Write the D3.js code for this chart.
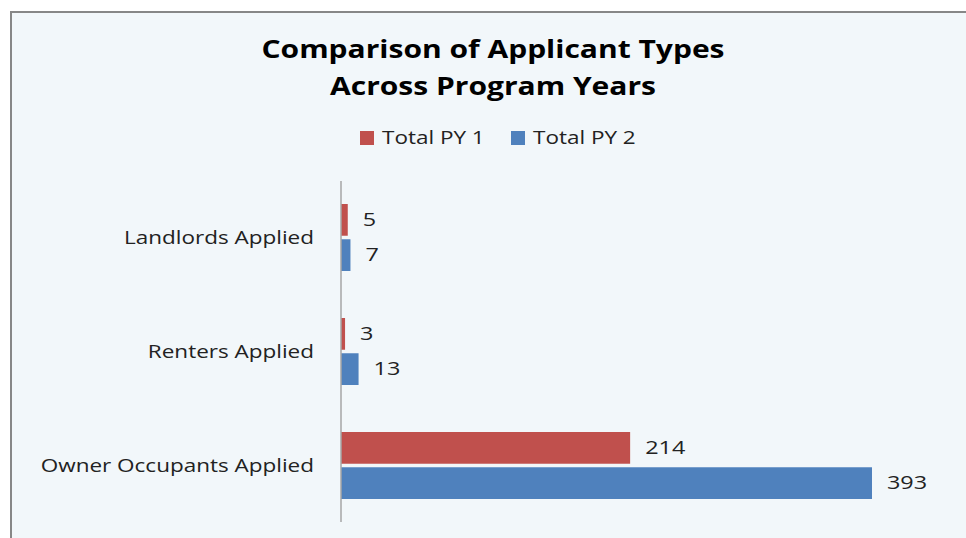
<!DOCTYPE html>
<html>
<head>
<meta charset="utf-8">
<script src="https://cdn.jsdelivr.net/npm/d3@7"></script>
<style>
  html, body { margin: 0; padding: 0; background: #fff; }
  svg { display: block; font-family: "Open Sans", "DejaVu Sans", sans-serif; }
</style>
</head>
<body>
<div id="chart"></div>
<script>
const categories = ["Landlords Applied", "Renters Applied", "Owner Occupants Applied"];
const seriesNames = ["Total PY 1", "Total PY 2"];
const py1Values = [5, 3, 214];
const py2Values = [7, 13, 393];
const colors = ["#c0504d", "#4f81bd"];
const titleLines = ["Comparison of Applicant Types", "Across Program  Years"];

const width = 966, height = 538;
const svg = d3.select("#chart").append("svg")
  .attr("width", width).attr("height", height);

// text in the original is drawn a bit wide, so stretch it horizontally
const place = (px, py, sx) => `translate(${px},${py}) scale(${sx},1)`;

// chart area with border on top and left
svg.append("rect").attr("x", 11).attr("y", 12)
  .attr("width", width).attr("height", height)
  .attr("fill", "#f2f7fa");
svg.append("path")
  .attr("d", `M11,${height} V12 H${width}`)
  .attr("fill", "none").attr("stroke", "#878787").attr("stroke-width", 2);

// title
svg.append("g").selectAll("text").data(titleLines).join("text")
  .attr("transform", (d, i) => place(493, 58 + i * 37, 1.2))
  .attr("text-anchor", "middle")
  .attr("font-size", 25).attr("font-weight", "bold").attr("fill", "#000")
  .text(d => d);

// legend
const legendX = [360, 511];
const legend = svg.append("g").selectAll("g").data(seriesNames).join("g")
  .attr("transform", (d, i) => `translate(${legendX[i]},130)`);
legend.append("rect").attr("width", 14).attr("height", 14).attr("y", 1)
  .attr("fill", (d, i) => colors[i]);
legend.append("text").attr("transform", place(22, 14, 1.25))
  .attr("font-size", 18).attr("fill", "#222").text(d => d);

// scales
const x = d3.scaleLinear().domain([0, 450]).range([341, 949]);
const y = d3.scaleBand().domain(categories).range([180.5, 522.5]);
const sub = d3.scaleBand().domain([0, 1]).range([y.bandwidth() / 2 - 33.5, y.bandwidth() / 2 + 33.5]).paddingInner(0.1);

const rows = categories.map((c, i) => ({ cat: c, vals: [py1Values[i], py2Values[i]] }));

// category labels
svg.append("g").selectAll("text").data(categories).join("text")
  .attr("transform", d => place(314, y(d) + y.bandwidth() / 2, 1.25))
  .attr("dy", "0.35em").attr("text-anchor", "end")
  .attr("font-size", 18).attr("fill", "#222").text(d => d);

const group = svg.append("g").selectAll("g").data(rows).join("g")
  .attr("transform", d => `translate(0,${y(d.cat)})`);

group.selectAll("rect").data(d => d.vals).join("rect")
  .attr("x", x(0))
  .attr("y", (d, i) => sub(i))
  .attr("width", d => x(d) - x(0))
  .attr("height", sub.bandwidth())
  .attr("fill", (d, i) => colors[i]);

group.selectAll("text").data(d => d.vals).join("text")
  .attr("transform", (d, i) => place(x(d) + 15, sub(i) + sub.bandwidth() / 2, 1.3))
  .attr("dy", "0.35em")
  .attr("font-size", 18).attr("fill", "#222")
  .text(d => d);

// vertical axis line
svg.append("line")
  .attr("x1", x(0)).attr("x2", x(0))
  .attr("y1", 181).attr("y2", 522)
  .attr("stroke", "#a6a6a6").attr("stroke-width", 1.5);
</script>
</body>
</html>
